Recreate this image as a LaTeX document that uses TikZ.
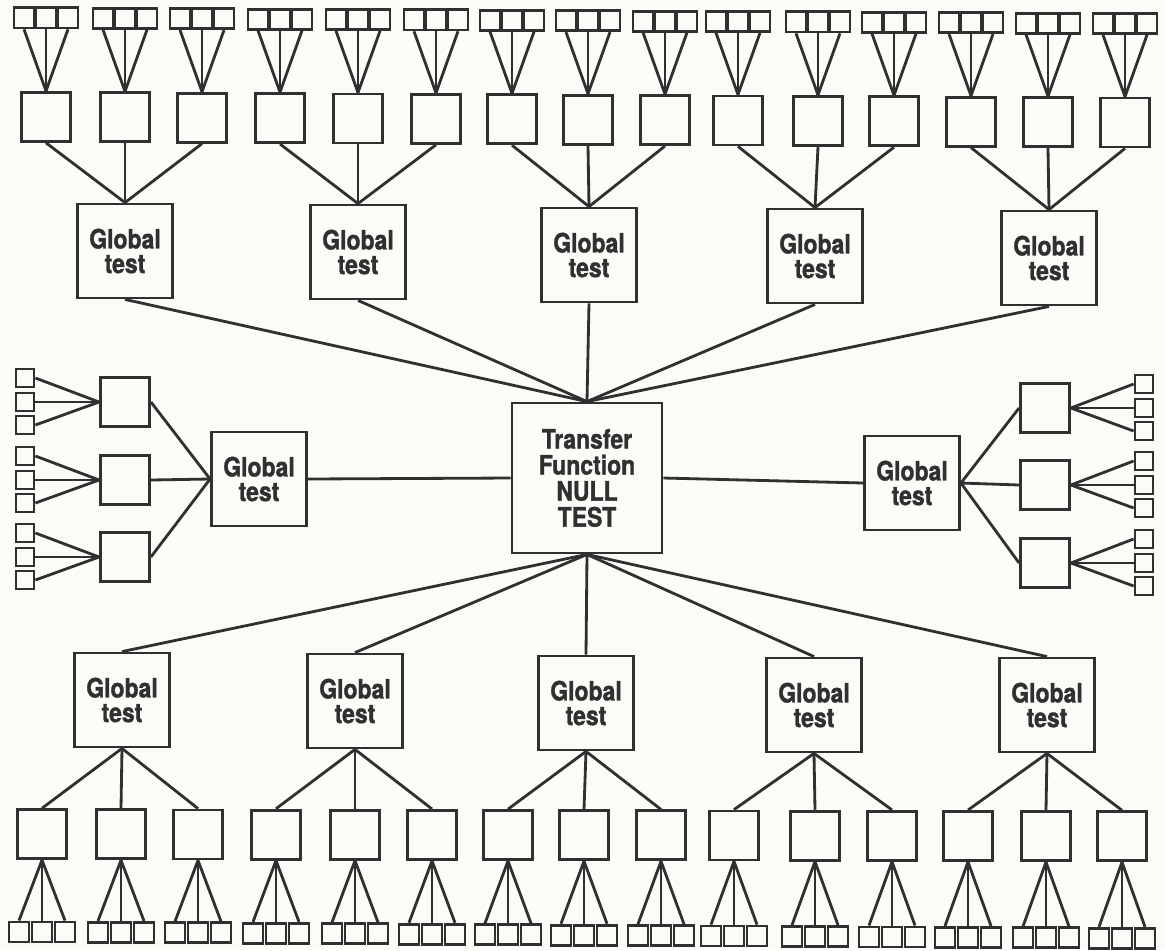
\documentclass[tikz,border=0pt]{standalone}
\usepackage{fontspec}
\newfontfamily\heavysans[FakeStretch=0.86, FakeBold=1.2]{TeX Gyre Heros}
\definecolor{ink}{RGB}{48,48,48}
\definecolor{paper}{RGB}{252,251,247}
\begin{document}
\begin{tikzpicture}[x=0.025cm, y=-0.025cm, line width=2pt, color=ink,
    gbox/.style={draw, minimum width=2.375cm, minimum height=2.35cm, inner sep=0pt, align=center,
      font=\heavysans\bfseries\fontsize{19}{17.5}\selectfont},
    sbox/.style={draw, minimum size=1.225cm, inner sep=0pt},
    lbox/.style={draw, minimum size=0.5cm, inner sep=0pt},
    sidebox/.style={draw, minimum size=0.45cm, inner sep=0pt}]

  \fill[paper] (0,0) rectangle (1165,950);

  \node[gbox, minimum size=3.75cm, font=\heavysans\bfseries\fontsize{19}{18.5}\selectfont]
    (null) at (587,478) {Transfer\\Function\\NULL\\TEST};

  % upper half
  \foreach \x/\y [count=\i] in {125/251, 358/252, 589/255, 815/256, 1049/258}
    \node[gbox] (gt\i) at (\x,\y) {Global\\test};
  \foreach \x [count=\i] in {46,125,202,280,358,436,512,588,665,738,818,894,971,1048,1125}
    \node[sbox] (ct\i) at (\x,{116.5+0.4*\i}) {};
  \foreach \i in {1,...,15}
    \foreach \d [count=\j] in {-22,0,22} {
      \node[lbox] (lt\i-\j) at ([shift={(\d,-99)}]ct\i) {};
      \draw (ct\i.north) -- (lt\i-\j.south);
    }
  \foreach \k in {1,...,5} {
    \foreach \j in {1,2,3} {
      \pgfmathtruncatemacro\c{3*(\k-1)+\j}
      \draw (gt\k.north) -- (ct\c.south);
    }
    \draw (gt\k.south) -- (null.north);
  }

  % lower half
  \foreach \x/\y [count=\i] in {122/700, 355/701, 586/703, 814/705, 1047/705}
    \node[gbox] (gb\i) at (\x,\y) {Global\\test};
  \foreach \x [count=\i] in {42,121,198,276,355,432,508,584,661,734,815,892,968,1046,1122}
    \node[sbox] (cb\i) at (\x,{834+0.15*\i}) {};
  \foreach \i in {1,...,15}
    \foreach \d [count=\j] in {-23,0,23} {
      \node[lbox] (lb\i-\j) at ([shift={(\d,{97.5+0.3*\i})}]cb\i) {};
      \draw (cb\i.south) -- (lb\i-\j.north);
    }
  \foreach \k in {1,...,5} {
    \foreach \j in {1,2,3} {
      \pgfmathtruncatemacro\c{3*(\k-1)+\j}
      \draw (gb\k.south) -- (cb\c.north);
    }
    \draw (gb\k.north) -- (null.south);
  }

  % left wing
  \node[gbox] (gl) at (259,479) {Global\\test};
  \foreach \y [count=\i] in {402,480,557} {
    \node[sbox] (cl\i) at (125,\y) {};
    \draw (gl.west) -- (cl\i.east);
    \foreach \d [count=\j] in {-24,0,23} {
      \node[sidebox] (ll\i-\j) at ([shift={(-100,\d)}]cl\i) {};
      \draw (cl\i.west) -- (ll\i-\j.east);
    }
  }
  \draw (gl.east) -- (null.west);

  % right wing
  \node[gbox] (gr) at (912,483) {Global\\test};
  \foreach \y [count=\i] in {408,485,563} {
    \node[sbox] (cr\i) at (1045,\y) {};
    \draw (gr.east) -- (cr\i.west);
    \foreach \d [count=\j] in {-24,0,23} {
      \node[sidebox] (lr\i-\j) at ([shift={(99,\d)}]cr\i) {};
      \draw (cr\i.east) -- (lr\i-\j.west);
    }
  }
  \draw (null.east) -- (gr.west);

\end{tikzpicture}
\end{document}
